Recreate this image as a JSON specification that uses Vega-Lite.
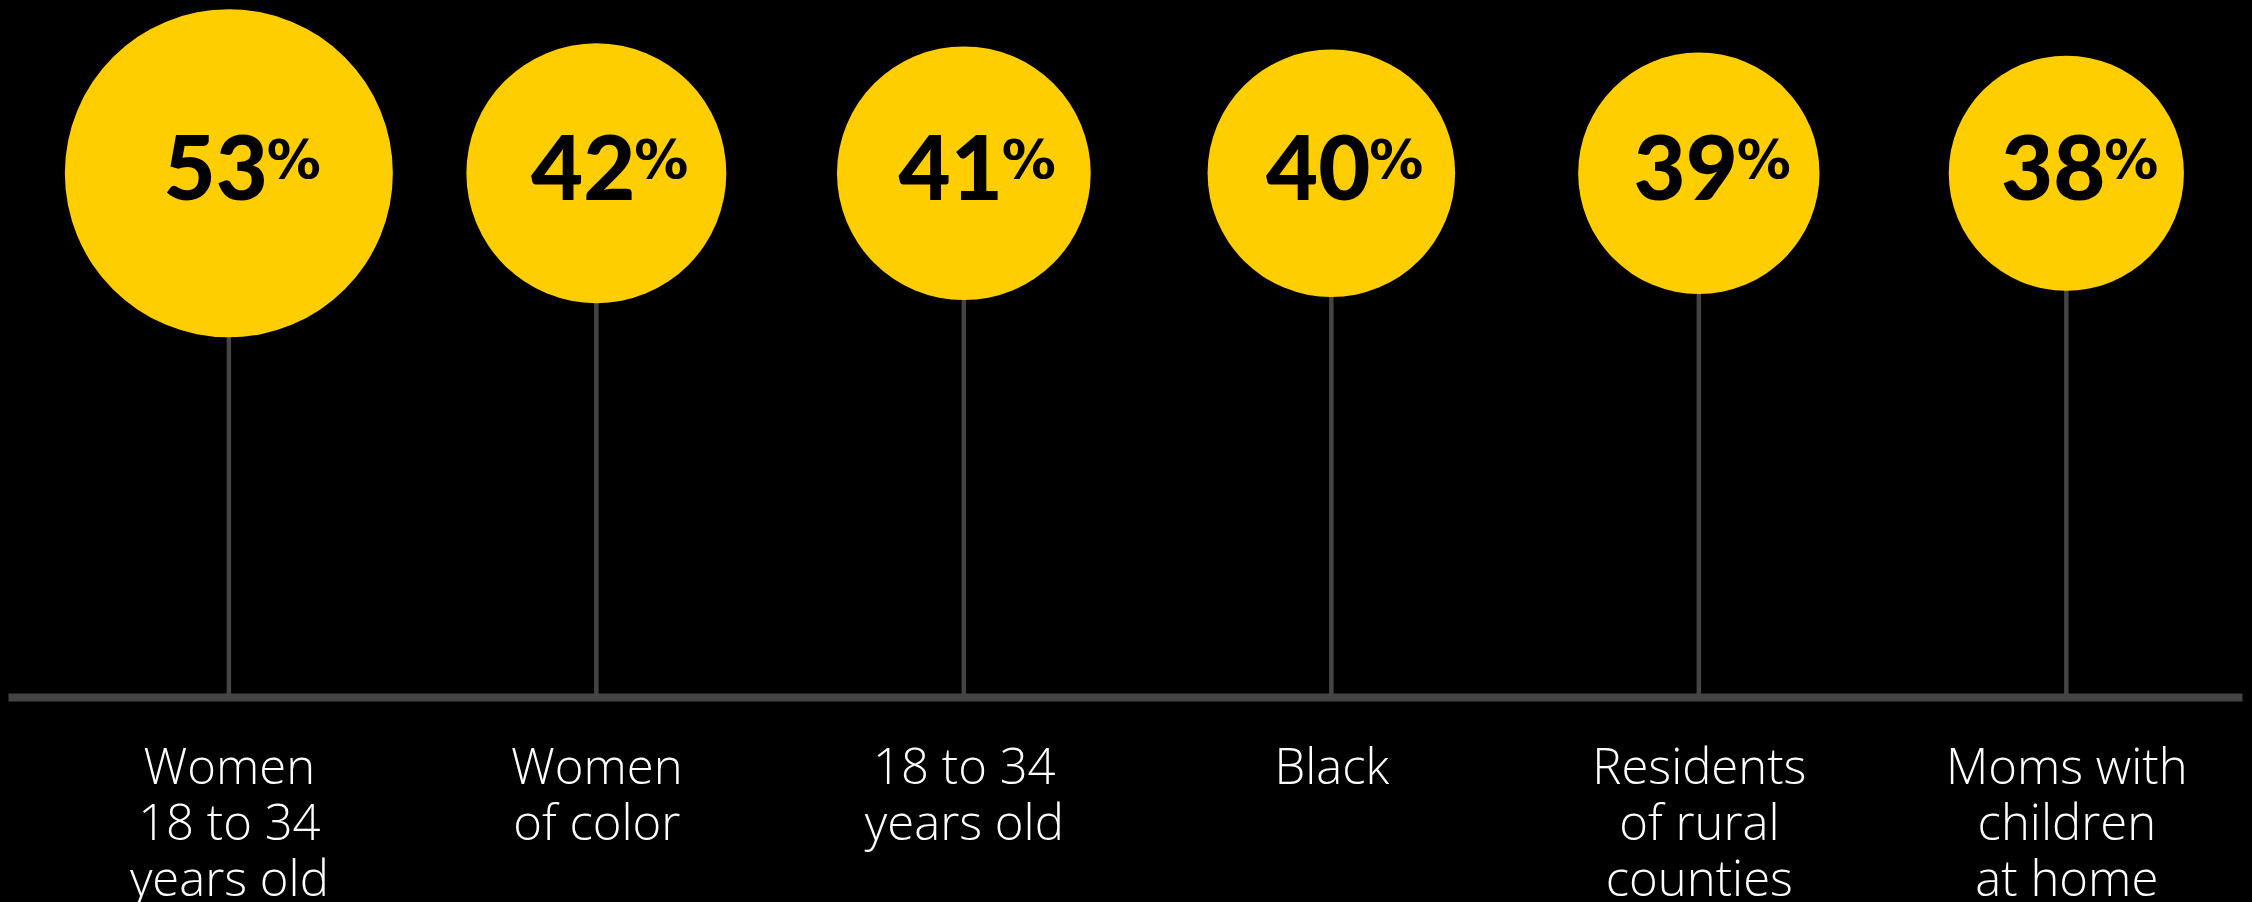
{
  "$schema": "https://vega.github.io/schema/vega-lite/v6.json",
  "width": 2234,
  "height": 697,
  "padding": {"left": 8, "top": 0, "right": 10, "bottom": 205},
  "autosize": {"type": "none"},
  "background": "#000000",
  "config": {"view": {"stroke": null}},
  "data": {
    "values": [
      {"group": "Women\n18 to 34\nyears old", "pct": 53},
      {"group": "Women\nof color", "pct": 42},
      {"group": "18 to 34\nyears old", "pct": 41},
      {"group": "Black", "pct": 40},
      {"group": "Residents\nof rural\ncounties", "pct": 39},
      {"group": "Moms with\nchildren\nat home", "pct": 38}
    ]
  },
  "encoding": {
    "x": {
      "field": "group",
      "type": "nominal",
      "sort": null,
      "scale": {"type": "point", "padding": 0.5395, "align": 0.557},
      "axis": {
        "title": null,
        "grid": false,
        "ticks": false,
        "tickSize": 0,
        "domain": true,
        "domainColor": "#444444",
        "domainWidth": 8,
        "labelAngle": 0,
        "labelAlign": "center",
        "labelBaseline": "top",
        "labelPadding": 47,
        "labelFont": "Open Sans",
        "labelFontWeight": 300,
        "labelFontSize": 49,
        "labelLineHeight": 56,
        "labelColor": "#ffffff",
        "labelLimit": 0,
        "labelOverlap": false,
        "labelExpr": "split(datum.label, '\\n')"
      }
    }
  },
  "layer": [
    {
      "mark": {"type": "rule", "color": "#444444", "strokeWidth": 4.5},
      "encoding": {
        "y": {"datum": 526, "type": "quantitative", "scale": {"domain": [0, 697]}, "axis": null},
        "y2": {"datum": 0}
      }
    },
    {
      "mark": {"type": "circle", "color": "#FFCE00", "opacity": 1, "strokeWidth": 0},
      "encoding": {
        "y": {"datum": 526, "type": "quantitative", "axis": null},
        "size": {
          "field": "pct",
          "type": "quantitative",
          "scale": {"type": "pow", "exponent": 2, "domain": [0, 53], "range": [0, 107584]},
          "legend": null
        }
      }
    },
    {
      "mark": {"type": "text", "align": "right", "baseline": "alphabetic", "dx": 39, "dy": 27, "font": "Lato", "fontWeight": 900, "fontSize": 90, "color": "#000000"},
      "encoding": {
        "y": {"datum": 526, "type": "quantitative", "axis": null},
        "text": {"field": "pct", "type": "quantitative"}
      }
    },
    {
      "mark": {"type": "text", "text": "%", "align": "left", "baseline": "alphabetic", "dx": 38, "dy": 5, "font": "DejaVu Sans", "fontWeight": "bold", "fontSize": 54, "color": "#000000"},
      "encoding": {
        "y": {"datum": 526, "type": "quantitative", "axis": null}
      }
    }
  ]
}
